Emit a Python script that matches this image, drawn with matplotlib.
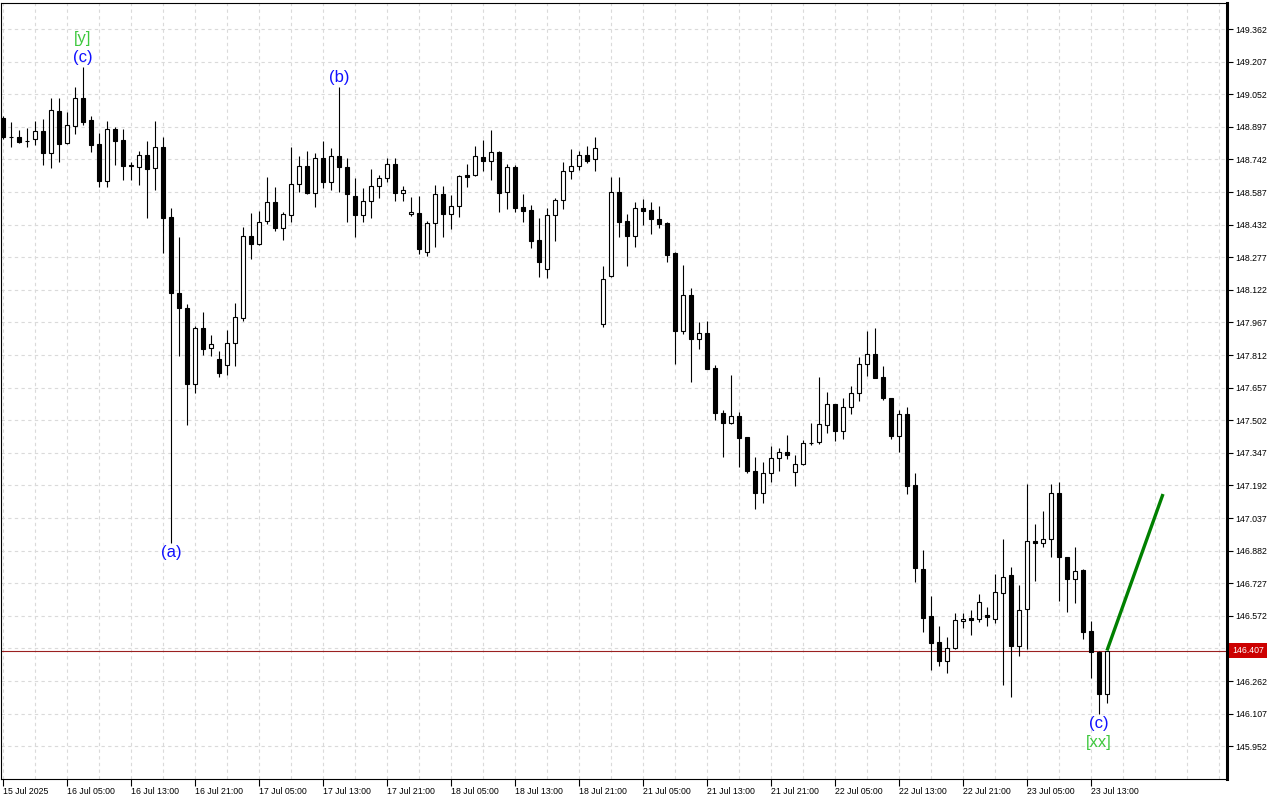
import matplotlib
matplotlib.use("Agg")
import matplotlib.pyplot as plt
import numpy as np

# USDJPY H1, 15 Jul 21:00 .. 23 Jul 15:00 (один бар = 1 час)
opens = [148.937, 148.847, 148.847, 148.829, 148.838, 148.877, 148.774, 148.972, 148.818, 148.902,
         149.032, 148.929, 148.814, 148.641, 148.887, 148.834, 148.715, 148.707, 148.761, 148.700,
         148.799, 148.467, 148.105, 148.038, 147.673, 147.939, 147.844, 147.791, 147.763, 147.870,
         147.989, 148.376, 148.338, 148.450, 148.541, 148.414, 148.476, 148.624, 148.712, 148.581,
         148.747, 148.636, 148.760, 148.707, 148.569, 148.476, 148.546, 148.617, 148.655, 148.719,
         148.581, 148.481, 148.486, 148.300, 148.438, 148.576, 148.481, 148.519, 148.668, 148.666,
         148.753, 148.736, 148.776, 148.586, 148.704, 148.514, 148.501, 148.358, 148.219, 148.476,
         148.549, 148.685, 148.709, 148.761, 148.742, 147.959, 148.186, 148.586, 148.449, 148.379,
         148.511, 148.501, 148.458, 148.439, 148.297, 147.927, 148.097, 147.889, 147.915, 147.749,
         147.538, 147.487, 147.522, 147.422, 147.260, 147.154, 147.249, 147.321, 147.349, 147.257,
         147.292, 147.392, 147.397, 147.479, 147.577, 147.452, 147.566, 147.630, 147.768, 147.815,
         147.706, 147.606, 147.428, 147.530, 147.192, 146.793, 146.571, 146.446, 146.358, 146.417,
         146.548, 146.562, 146.555, 146.576, 146.555, 146.679, 146.766, 146.430, 146.603, 146.926,
         146.917, 146.936, 147.154, 146.850, 146.745, 146.790, 146.500, 146.401, 146.199]
highs = [148.950, 148.918, 148.882, 148.890, 148.926, 148.934, 149.032, 149.032, 148.966, 149.088,
         149.180, 148.948, 148.866, 148.925, 148.895, 148.887, 148.731, 148.782, 148.829, 148.925,
         148.847, 148.509, 148.372, 148.053, 147.950, 148.015, 147.907, 147.831, 147.931, 148.058,
         148.422, 148.486, 148.497, 148.657, 148.609, 148.490, 148.799, 148.760, 148.782, 148.771,
         148.829, 148.795, 149.088, 148.747, 148.655, 148.605, 148.696, 148.668, 148.747, 148.747,
         148.615, 148.562, 148.568, 148.449, 148.620, 148.615, 148.573, 148.668, 148.720, 148.806,
         148.834, 148.882, 148.783, 148.720, 148.715, 148.577, 148.525, 148.462, 148.509, 148.557,
         148.731, 148.791, 148.782, 148.806, 148.847, 148.237, 148.657, 148.657, 148.481, 148.538,
         148.554, 148.538, 148.520, 148.444, 148.300, 148.240, 148.129, 147.969, 147.974, 147.764,
         147.550, 147.717, 147.539, 147.422, 147.325, 147.303, 147.379, 147.368, 147.431, 147.336,
         147.408, 147.487, 147.706, 147.634, 147.580, 147.606, 147.664, 147.804, 147.926, 147.939,
         147.760, 147.606, 147.550, 147.563, 147.249, 146.885, 146.666, 146.523, 146.470, 146.584,
         146.584, 146.599, 146.674, 146.612, 146.771, 146.936, 146.802, 146.718, 147.199, 147.008,
         147.070, 147.199, 147.207, 146.852, 146.900, 146.793, 146.547, 146.404, 146.407]
lows = [148.840, 148.802, 148.818, 148.802, 148.810, 148.715, 148.700, 148.731, 148.815, 148.863,
        148.906, 148.779, 148.612, 148.612, 148.715, 148.644, 148.644, 148.620, 148.465, 148.596,
        148.298, 146.918, 147.807, 147.479, 147.633, 147.812, 147.807, 147.709, 147.717, 147.761,
        147.975, 148.268, 148.335, 148.435, 148.403, 148.359, 148.446, 148.586, 148.580, 148.517,
        148.607, 148.596, 148.588, 148.446, 148.374, 148.446, 148.465, 148.557, 148.636, 148.546,
        148.546, 148.474, 148.292, 148.284, 148.324, 148.374, 148.410, 148.470, 148.612, 148.664,
        148.687, 148.644, 148.493, 148.506, 148.493, 148.446, 148.319, 148.184, 148.177, 148.355,
        148.505, 148.649, 148.692, 148.726, 148.687, 147.944, 148.183, 148.372, 148.237, 148.327,
        148.430, 148.389, 148.417, 148.256, 147.769, 147.913, 147.685, 147.842, 147.745, 147.503,
        147.328, 147.485, 147.281, 147.249, 147.078, 147.107, 147.209, 147.262, 147.317, 147.190,
        147.290, 147.384, 147.387, 147.442, 147.404, 147.411, 147.531, 147.595, 147.713, 147.701,
        147.598, 147.412, 147.352, 147.150, 146.734, 146.496, 146.314, 146.333, 146.301, 146.415,
        146.515, 146.480, 146.544, 146.523, 146.539, 146.243, 146.187, 146.381, 146.412, 146.739,
        146.900, 146.850, 146.644, 146.591, 146.634, 146.460, 146.275, 146.103, 146.159]
closes = [148.847, 148.847, 148.826, 148.829, 148.877, 148.774, 148.975, 148.817, 148.904, 149.032,
          148.921, 148.812, 148.641, 148.885, 148.831, 148.711, 148.709, 148.761, 148.698, 148.799,
          148.465, 148.105, 148.038, 147.676, 147.939, 147.842, 147.863, 147.725, 147.870, 147.991,
          148.379, 148.338, 148.446, 148.541, 148.414, 148.481, 148.624, 148.712, 148.581, 148.747,
          148.636, 148.760, 148.707, 148.576, 148.476, 148.546, 148.617, 148.654, 148.719, 148.581,
          148.595, 148.490, 148.314, 148.438, 148.576, 148.481, 148.519, 148.662, 148.660, 148.757,
          148.736, 148.776, 148.584, 148.704, 148.512, 148.498, 148.355, 148.256, 148.476, 148.549,
          148.685, 148.709, 148.761, 148.736, 148.795, 148.172, 148.586, 148.446, 148.379, 148.509,
          148.498, 148.457, 148.436, 148.289, 147.927, 148.097, 147.889, 147.915, 147.747, 147.538,
          147.490, 147.522, 147.419, 147.262, 147.154, 147.249, 147.321, 147.349, 147.335, 147.292,
          147.392, 147.393, 147.482, 147.577, 147.452, 147.566, 147.630, 147.768, 147.815, 147.704,
          147.609, 147.427, 147.530, 147.190, 146.798, 146.563, 146.441, 146.358, 146.417, 146.552,
          146.557, 146.554, 146.636, 146.565, 146.684, 146.755, 146.428, 146.599, 146.926, 146.917,
          146.936, 147.154, 146.850, 146.745, 146.786, 146.496, 146.401, 146.199, 146.407]

time_labels = ["15 Jul 2025", "16 Jul 05:00", "16 Jul 13:00", "16 Jul 21:00", "17 Jul 05:00",
               "17 Jul 13:00", "17 Jul 21:00", "18 Jul 05:00", "18 Jul 13:00", "18 Jul 21:00",
               "21 Jul 05:00", "21 Jul 13:00", "21 Jul 21:00", "22 Jul 05:00", "22 Jul 13:00",
               "22 Jul 21:00", "23 Jul 05:00", "23 Jul 13:00"]
price_ticks = [145.952, 146.107, 146.262, 146.417, 146.572, 146.727, 146.882, 147.037, 147.192,
               147.347, 147.502, 147.657, 147.812, 147.967, 148.122, 148.277, 148.432, 148.587,
               148.742, 148.897, 149.052, 149.207, 149.362]
last_price = 146.407

# разметка волн: (текст, бар, цвет, сверху/снизу, ступень)
wave_labels = [("(c)", 10, "#1010ff", "top", 0), ("[y]", 10, "#3dc83d", "top", 1),
               ("(b)", 42, "#1010ff", "top", 0),
               ("(a)", 21, "#1010ff", "bottom", 0),
               ("(c)", 137, "#1010ff", "bottom", 0), ("[xx]", 137, "#3dc83d", "bottom", 1)]

forecast_x = [138, 145]
forecast_y = [146.407, 147.151]

o = np.array(opens)
h = np.array(highs)
l = np.array(lows)
c = np.array(closes)
x = np.arange(len(o))

fig = plt.figure(figsize=(12.8, 8), dpi=100)
ax = fig.add_axes([1 / 1280, 21 / 800, 1226 / 1280, 776 / 800])

up = c >= o
ax.vlines(x, l, h, colors="black", linewidth=0.8, zorder=2)
ax.bar(x, np.abs(c - o), bottom=np.minimum(o, c), width=0.62,
       color=np.where(up, "white", "black"), edgecolor="black", linewidth=0.8, zorder=3)

ax.axhline(last_price, color="#9a2020", linewidth=0.8, zorder=1)
ax.plot(forecast_x, forecast_y, color="#008000", linewidth=2.4, zorder=4,
        solid_capstyle="butt")

for txt, i, col, side, step in wave_labels:
    if side == "top":
        ax.annotate(txt, xy=(i, h[i]), xytext=(0, 2 + 19 * step), textcoords="offset pixels",
                    ha="center", va="bottom", color=col, fontsize=12, family="Liberation Sans")
    else:
        ax.annotate(txt, xy=(i, l[i]), xytext=(0, -2 - 19 * step), textcoords="offset pixels",
                    ha="center", va="top", color=col, fontsize=12, family="Liberation Sans")

ax.set_xlim(-0.25, 153)
ax.set_ylim(145.796, 149.486)

ax.set_xticks(np.arange(0, len(time_labels) * 8, 8))
ax.set_xticklabels(time_labels, ha="left", fontsize=6.3, family="Liberation Sans")
ax.set_xticks(np.arange(0, 153, 4), minor=True)
ax.yaxis.tick_right()
ax.set_yticks(price_ticks)
# подпись 146.417 закрыта плашкой текущей цены
ax.set_yticklabels(["" if abs(p - last_price) < 0.05 else f"{p:.3f}" for p in price_ticks],
                   fontsize=6.3, family="Liberation Sans")
ax.tick_params(axis="x", which="major", length=5, width=0.8, pad=1)
ax.tick_params(axis="x", which="minor", length=0)
ax.tick_params(axis="y", which="major", length=4, width=0.8, pad=2)

ax.set_axisbelow(True)
ax.grid(True, axis="x", which="both", color="#dadada", linestyle=(0, (3, 3)), linewidth=0.8)
ax.grid(True, axis="y", which="major", color="#dadada", linestyle=(0, (3, 3)), linewidth=0.8)

for s in ["left", "top", "bottom"]:
    ax.spines[s].set_linewidth(0.8)
ax.spines["right"].set_linewidth(2.2)

# плашка текущей цены
ax.annotate(f"{last_price:.3f}", xy=(1, last_price), xycoords=("axes fraction", "data"),
            xytext=(5, 0), textcoords="offset pixels", ha="left", va="center",
            fontsize=6.3, family="Liberation Sans", color="white",
            bbox=dict(boxstyle="square,pad=0.35", facecolor="#cc0000", edgecolor="none"),
            annotation_clip=False)

fig.savefig("out.png", dpi=100, facecolor="white")
